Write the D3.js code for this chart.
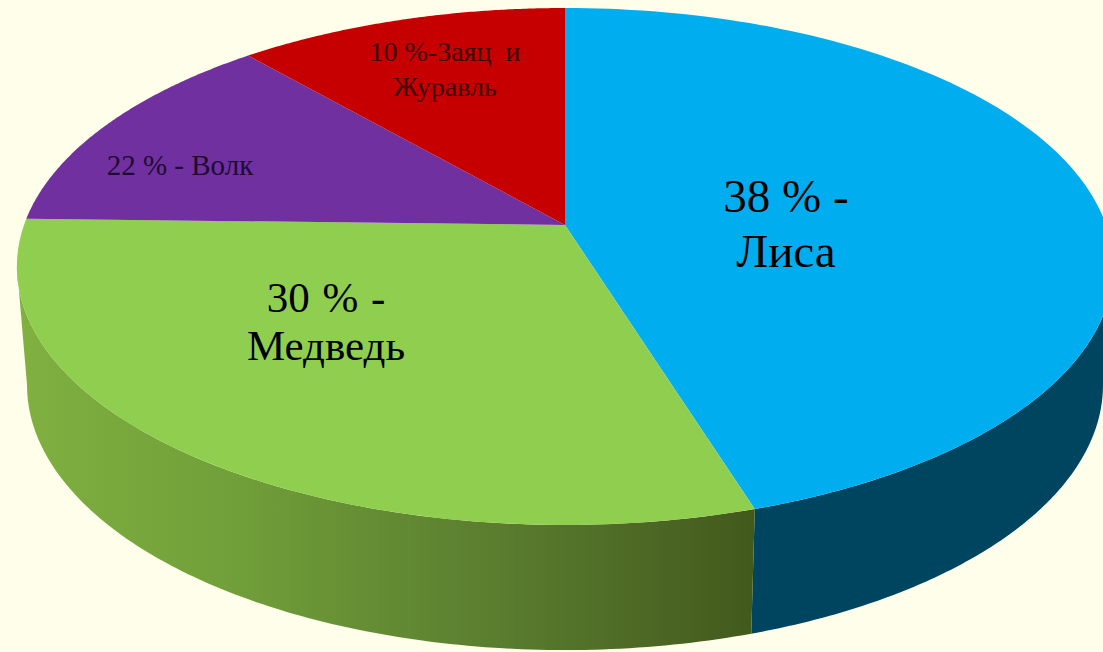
<!DOCTYPE html>
<html>
    <head>
        <meta charset="utf-8">
        <title>Pie</title>
        <script src="https://d3js.org/d3.v7.min.js"></script>
        <style>
            html, body { margin: 0; padding: 0; background: #fffeea; overflow: hidden; }
            svg { display: block; }
            text { font-family: "Liberation Serif", serif; text-anchor: middle; }
        </style>
    </head>
    <body>
        <script>
            // slice sizes as drawn in the picture (the printed labels say 38/30/22/10)
            const names = ["Лиса", "Медведь", "Волк", "Заяц и Журавль"];
            const drawnShares = [45.2, 30.2, 13.2, 11.4];
            const topColors = ["#00aeef", "#8fce4e", "#7030a0", "#c60000"];
            const labelLines = [["38 % -", "Лиса"], ["30 % -", "Медведь"], ["22 % - Волк"], ["10 %-Заяц  и", "Журавль"]];

            const w = 1103;
            const h = 652;
            const k = 0.1605; // perspective squeeze towards the back of the disc

            const labelPlace = [
                { x: 786, y: 212, size: 47, gap: 55, fill: "#000", spacing: 0 },
                { x: 326, y: 312, size: 43, gap: 48, fill: "#000", spacing: 2 },
                { x: 180, y: 175, size: 29, gap: 0, fill: "#1d0b33", spacing: 0 },
                { x: 445, y: 61, size: 28, gap: 35, fill: "#3d0000", spacing: 0 }
            ];

            const svg = d3.select("body").append("svg").attr("width", w).attr("height", h);

            const sideGrad = svg.append("defs").append("linearGradient")
                .attr("id", "greenSide")
                .attr("gradientUnits", "userSpaceOnUse")
                .attr("x1", 25).attr("x2", 750).attr("y1", 0).attr("y2", 0);
            [[0, "#7fb040"], [0.3, "#709e39"], [0.65, "#5a7d2f"], [1, "#435a1d"]].forEach(s => {
                sideGrad.append("stop").attr("offset", s[0]).attr("stop-color", s[1]);
            });
            const sideFills = ["#00455f", "url(#greenSide)", "#4a2070", "#800000"];

            // a disc plane: unit circle coordinates through scales, then divided by depth
            function plane(cy, rx, ry) {
                const xs = d3.scaleLinear().domain([0, 1]).range([565, 565 + rx]);
                const ys = d3.scaleLinear().domain([0, 1]).range([cy, cy + ry]);
                return a => {
                    const u = Math.sin(a);
                    const v = -Math.cos(a);
                    const depth = 1 - k * v;
                    return [xs(u / depth), ys(v / depth)];
                };
            }
            const topPlane = plane(225, 541, 251.8);
            const lowPlane = plane(342.5, 531, 258.2);

            const slices = d3.pie().sort(null).value(d => d)(drawnShares);
            const line = d3.line();
            const samples = (a0, a1) => d3.range(0, 121).map(i => a0 + (a1 - a0) * i / 120);

            // the wall is only seen between the two silhouette angles
            const wallFrom = Math.acos(-k);
            const wallTo = 2 * Math.PI - wallFrom;

            svg.selectAll("path.side")
                .data(slices.filter(s => s.startAngle < wallTo && s.endAngle > wallFrom))
                .enter()
                .append("path")
                .attr("class", "side")
                .attr("fill", s => sideFills[s.index])
                .attr("d", s => {
                    const as = samples(Math.max(s.startAngle, wallFrom), Math.min(s.endAngle, wallTo));
                    return line(as.map(topPlane).concat(as.slice().reverse().map(lowPlane))) + "Z";
                });

            svg.selectAll("path.face")
                .data(slices)
                .enter()
                .append("path")
                .attr("class", "face")
                .attr("fill", (d, i) => topColors[i])
                .attr("d", d => line([[565, 225]].concat(samples(d.startAngle, d.endAngle).map(topPlane))) + "Z");

            labelLines.forEach((lines, i) => {
                const p = labelPlace[i];
                lines.forEach((t, j) => {
                    svg.append("text")
                        .attr("x", p.x)
                        .attr("y", p.y + j * p.gap)
                        .attr("font-size", p.size)
                        .attr("fill", p.fill)
                        .attr("word-spacing", p.spacing)
                        .style("white-space", "pre")
                        .text(t);
                });
            });
        </script>
    </body>
</html>
